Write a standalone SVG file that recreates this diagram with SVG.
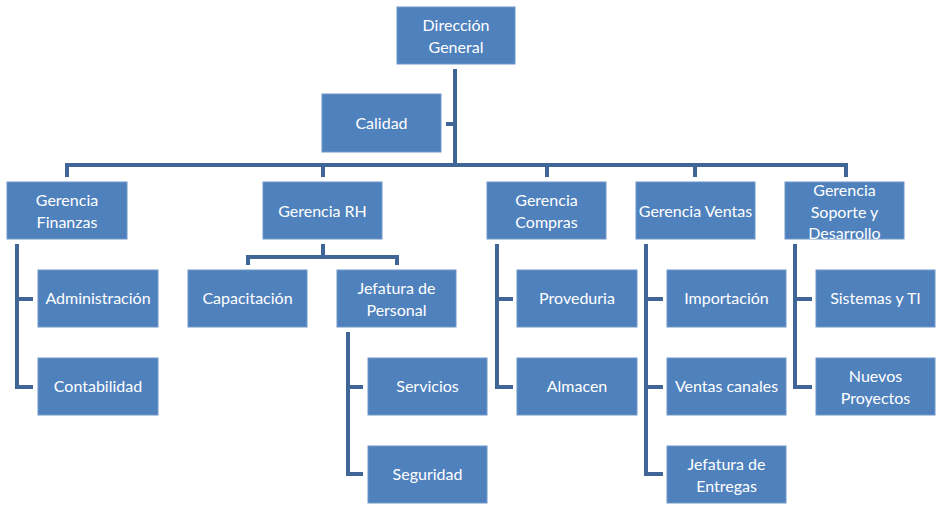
<svg xmlns="http://www.w3.org/2000/svg" width="943" height="515" viewBox="0 0 943 515">
<style>
.n rect{fill:#4F81BD;stroke:#6f97c8;stroke-width:1}
.n text{fill:#fff;font-family:Lato,"Liberation Sans",sans-serif;font-size:16px;text-anchor:middle}
.c path{fill:none;stroke:#3F6697;stroke-width:4}
</style>
<rect width="943" height="515" fill="#fff"/>
<g class="c" id="connectors">
<path d="M455,69V165M446,124H455"/>
<path d="M67,177V165H846V177M323,165V177M547,165V177M695,165V177"/>
<path d="M17,244V387H33M17,299H33"/>
<path d="M323,244V257M248,265V257H397V265"/>
<path d="M348,332V474H363M348,387H363"/>
<path d="M497,244V387H513M497,299H513"/>
<path d="M646,244V474H663M646,299H663M646,387H663"/>
<path d="M795,244V387H812M795,299H812"/>
</g>
<g class="n" id="direccion"><rect x="397" y="7" width="118" height="57"/><text x="456" y="31">Dirección</text><text x="456" y="53">General</text></g>
<g class="n" id="calidad"><rect x="322" y="94" width="119" height="58"/><text x="381.5" y="129">Calidad</text></g>
<g class="n" id="finanzas"><rect x="7" y="182" width="120" height="57"/><text x="67" y="206">Gerencia</text><text x="67" y="228">Finanzas</text></g>
<g class="n" id="rh"><rect x="263" y="182" width="119" height="57"/><text x="322.5" y="217">Gerencia RH</text></g>
<g class="n" id="compras"><rect x="487" y="182" width="119" height="57"/><text x="546.5" y="206">Gerencia</text><text x="546.5" y="228">Compras</text></g>
<g class="n" id="ventas"><rect x="636" y="182" width="119" height="57"/><text x="695.5" y="217">Gerencia Ventas</text></g>
<g class="n" id="soporte"><rect x="785" y="182" width="119" height="57"/><text x="844.5" y="196">Gerencia</text><text x="844.5" y="218">Soporte y</text><text x="844.5" y="239">Desarrollo</text></g>
<g class="n" id="administracion"><rect x="38" y="270" width="120" height="57"/><text x="98" y="304">Administración</text></g>
<g class="n" id="contabilidad"><rect x="38" y="358" width="120" height="57"/><text x="98" y="392">Contabilidad</text></g>
<g class="n" id="capacitacion"><rect x="188" y="270" width="119" height="57"/><text x="247.5" y="304">Capacitación</text></g>
<g class="n" id="jefatura-personal"><rect x="337" y="270" width="119" height="57"/><text x="396.5" y="294">Jefatura de</text><text x="396.5" y="316">Personal</text></g>
<g class="n" id="servicios"><rect x="368" y="358" width="119" height="57"/><text x="427.5" y="392">Servicios</text></g>
<g class="n" id="seguridad"><rect x="368" y="446" width="119" height="57"/><text x="427.5" y="480">Seguridad</text></g>
<g class="n" id="proveduria"><rect x="517" y="270" width="120" height="57"/><text x="577" y="304">Proveduria</text></g>
<g class="n" id="almacen"><rect x="517" y="358" width="120" height="57"/><text x="577" y="392">Almacen</text></g>
<g class="n" id="importacion"><rect x="667" y="270" width="119" height="57"/><text x="726.5" y="304">Importación</text></g>
<g class="n" id="ventas-canales"><rect x="667" y="358" width="119" height="57"/><text x="726.5" y="392">Ventas canales</text></g>
<g class="n" id="jefatura-entregas"><rect x="667" y="446" width="119" height="57"/><text x="726.5" y="470">Jefatura de</text><text x="726.5" y="492">Entregas</text></g>
<g class="n" id="sistemas"><rect x="816" y="270" width="119" height="57"/><text x="875.5" y="304">Sistemas y TI</text></g>
<g class="n" id="nuevos"><rect x="816" y="358" width="119" height="57"/><text x="875.5" y="382">Nuevos</text><text x="875.5" y="404">Proyectos</text></g>
</svg>
